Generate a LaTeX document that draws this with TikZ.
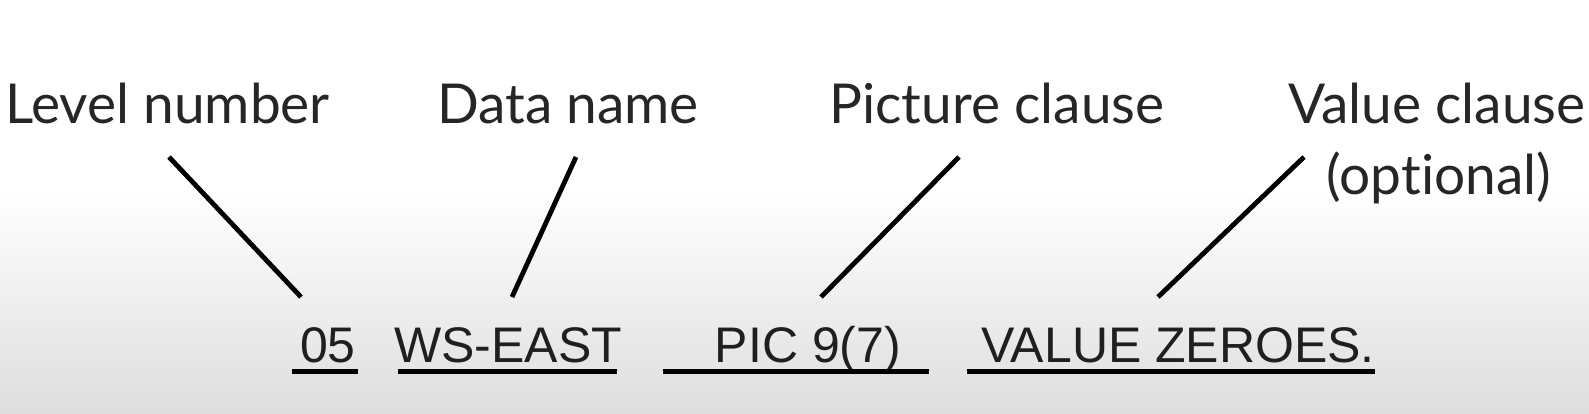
\documentclass[tikz,border=0pt]{standalone}
\usepackage{fontspec}
\setmainfont[Ligatures={NoCommon,NoRare}]{Lato}
\newfontfamily\codefont{Liberation Sans}
\begin{document}
\begin{tikzpicture}[x=1pt,y=-1pt,
  lbl/.style={anchor=base,inner sep=0pt,text=black!85,font=\fontsize{55}{60}\selectfont},
  code/.style={anchor=base,inner sep=0pt,text=black!88,font=\codefont\fontsize{50}{54}\selectfont},
  pointer/.style={line width=4.8pt,black},
  uline/.style={line width=5pt,black}]
\useasboundingbox (0,0) rectangle (1589,413);
\fill[white] (0,0) rectangle (1589,190);
\shade[top color=white,bottom color=black!13] (0,190) rectangle (1589,413);
% labels
\node[lbl] (lev) at (167.5,123) {Level number};
\node[lbl] (dat) at (568,123) {Data name};
\node[lbl] (pic) at (997,123) {Picture clause};
\node[lbl] (val) at (1437,123) {Value clause};
\node[lbl] (opt) at (1439,194) {(optional)};
% code
\node[code] (c05) at (328,362) {05};
\node[code] (cws) at (508,362) {WS-EAST};
\node[code] (cpic) at (808,362) {PIC 9(7)};
\node[code] (cval) at (1178,362) {VALUE ZEROES.};
% pointer ends
\coordinate (p1a) at (169,157); \coordinate (p1b) at (301,297);
\coordinate (p2a) at (576,157); \coordinate (p2b) at (512,297);
\coordinate (p3a) at (959,157); \coordinate (p3b) at (821,297);
\coordinate (p4a) at (1304,157); \coordinate (p4b) at (1158,297);
\draw[pointer] (p1a) -- (p1b);
\draw[pointer] (p2a) -- (p2b);
\draw[pointer] (p3a) -- (p3b);
\draw[pointer] (p4a) -- (p4b);
% underlines
\coordinate (u1a) at (292,371); \coordinate (u1b) at (358,371);
\coordinate (u2a) at (398,371); \coordinate (u2b) at (617,371);
\coordinate (u3a) at (663,371); \coordinate (u3b) at (929,371);
\coordinate (u4a) at (967,371); \coordinate (u4b) at (1375,371);
\draw[uline] (u1a) -- (u1b);
\draw[uline] (u2a) -- (u2b);
\draw[uline] (u3a) -- (u3b);
\draw[uline] (u4a) -- (u4b);
\end{tikzpicture}
\end{document}
